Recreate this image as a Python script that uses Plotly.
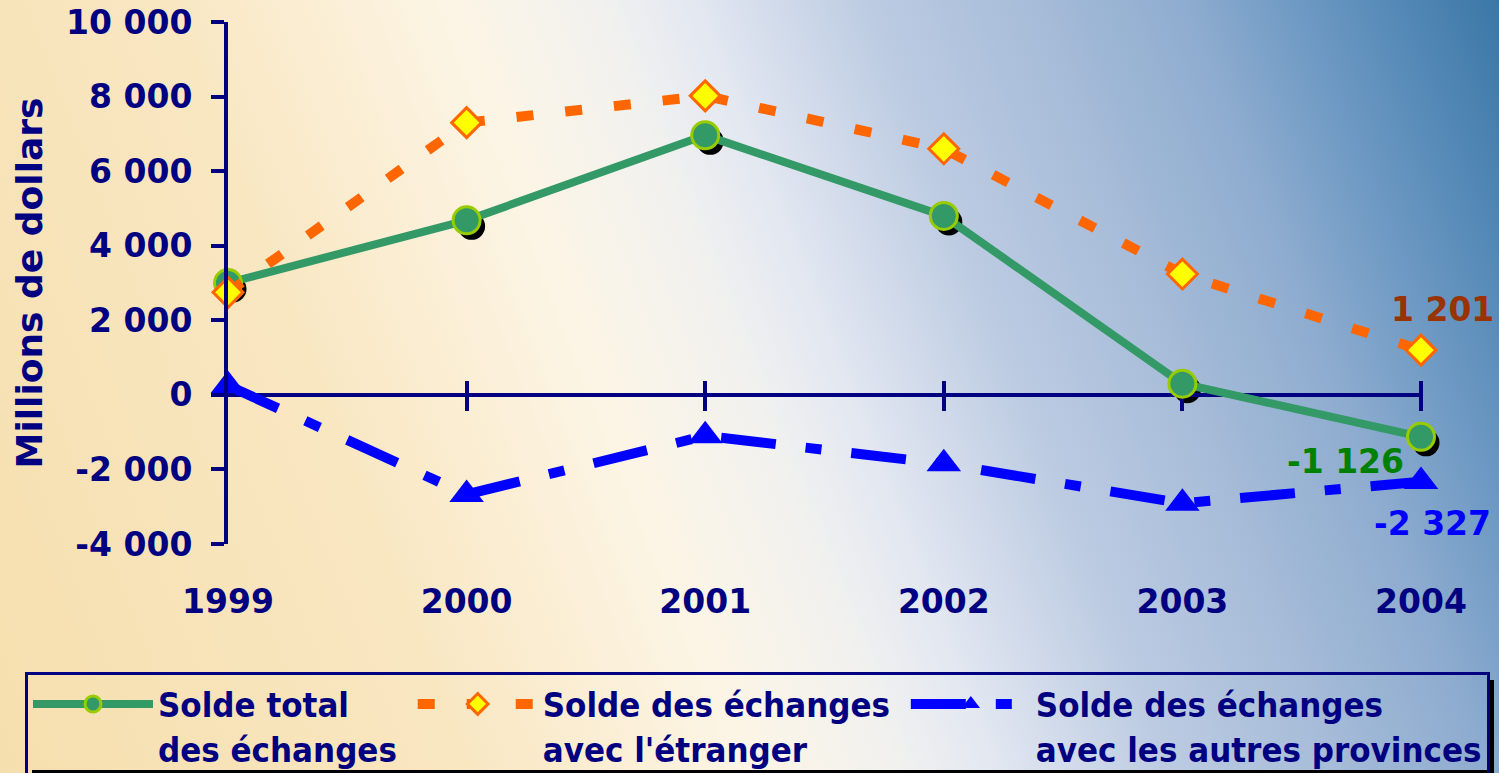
import base64

import plotly.graph_objects as go

W, H = 1499, 773

years = [1999, 2000, 2001, 2002, 2003, 2004]
solde_total = [3000, 4680, 6960, 4800, 300, -1126]
solde_etranger = [2750, 7300, 8020, 6600, 3240, 1201]
solde_provinces = [250, -2670, -1100, -1850, -2910, -2327]

y_ticks = [-4000, -2000, 0, 2000, 4000, 6000, 8000, 10000]
y_tick_labels = ["-4 000", "-2 000", "0", "2 000", "4 000", "6 000", "8 000", "10 000"]
x_tick_labels = ["1999", "2000", "2001", "2002", "2003", "2004"]

NBSP = "\u00a0"
names = [
    "Solde total<br>des échanges" + NBSP,
    "Solde des échanges" + NBSP + "<br>avec l'étranger",
    "Solde des échanges<br>avec les autres provinces",
]

NAVY = "#000080"
GREEN = "#339966"
ORANGE = "#ff6600"
BLUE = "#0000ff"
FONT = "DejaVu Sans"

# plot area in pixels
PL, PR, PT, PB = 228, 1421, 22, 544
x_dom = [PL / W, PR / W]
y_dom = [1 - PB / H, 1 - PT / H]
y_rng = [-4000, 10000]
zero_pos = y_dom[0] + (0 - y_rng[0]) / (y_rng[1] - y_rng[0]) * (y_dom[1] - y_dom[0])

# background gradient as an svg image
stops = [
    (0.00, "#f6dfae"), (0.26, "#f9e7c2"), (0.42, "#fcf5e6"), (0.50, "#f1f1ef"),
    (0.555, "#e2e7f1"), (0.65, "#bccbe2"), (0.735, "#a8bdd9"), (0.825, "#8eaccf"),
    (0.895, "#6a97c2"), (1.00, "#3a77a7"),
]
stop_xml = "".join(f'<stop offset="{o}" stop-color="{c}"/>' for o, c in stops)
svg = (
    f'<svg xmlns="http://www.w3.org/2000/svg" width="{W}" height="{H}" viewBox="0 0 {W} {H}" preserveAspectRatio="none">'
    f'<defs><linearGradient id="g" gradientUnits="userSpaceOnUse" x1="-261" y1="102" x2="1302" y2="-507">{stop_xml}</linearGradient></defs>'
    f'<rect width="{W}" height="{H}" fill="url(#g)"/></svg>'
)
bg_src = "data:image/svg+xml;base64," + base64.b64encode(svg.encode()).decode()

fig = go.Figure()

# shadow of the green markers (on a slightly shifted subplot)
fig.add_trace(go.Scatter(
    x=years, y=solde_total, mode="markers", xaxis="x", yaxis="y",
    marker=dict(size=27, color="black"), showlegend=False, hoverinfo="skip", cliponaxis=False,
))

fig.add_trace(go.Scatter(
    x=years, y=solde_total, name=names[0], mode="lines+markers", xaxis="x2", yaxis="y2",
    line=dict(color=GREEN, width=8),
    marker=dict(size=27, color=GREEN, line=dict(color="#99cc00", width=3)),
    cliponaxis=False,
))
fig.add_trace(go.Scatter(
    x=years, y=solde_etranger, name=names[1], mode="lines+markers", xaxis="x2", yaxis="y2",
    line=dict(color=ORANGE, width=10, dash="17px,32px"),
    marker=dict(symbol="diamond", size=23, color="#ffff00", line=dict(color=ORANGE, width=3)),
    cliponaxis=False,
))
fig.add_trace(go.Scatter(
    x=years, y=solde_provinces, name=names[2], mode="lines+markers", xaxis="x2", yaxis="y2",
    line=dict(color=BLUE, width=10, dash="55px,30px,16px,30px"),
    marker=dict(symbol="triangle-up", size=30, color=BLUE),
    cliponaxis=False,
))
# carrier for the tick marks crossing the zero line
fig.add_trace(go.Scatter(
    x=years, y=solde_total, mode="lines", xaxis="x3", yaxis="y2",
    line=dict(width=0), opacity=0, showlegend=False, hoverinfo="skip",
))

labels = [
    (solde_etranger[-1], "1 201", "#993300", 21, 41),
    (solde_total[-1], "-1 126", "#008000", -76, -25),
    (solde_provinces[-1], "-2 327", BLUE, 11, -42),
]
for val, txt, col, dx, dy in labels:
    fig.add_annotation(
        x=years[-1], y=val, xref="x2", yref="y2", text=txt, showarrow=False,
        xshift=dx, yshift=dy, font=dict(family=FONT, size=33, color=col, weight="bold"),
    )

# drop shadow of the legend box
for x0, y0, x1, y1 in [(1488, 680, 1494, 773), (32, 770, 1494, 773)]:
    fig.add_shape(type="rect", xref="paper", yref="paper", x0=x0 / W, x1=x1 / W,
                  y0=1 - y1 / H, y1=1 - y0 / H, fillcolor="black", line=dict(width=0),
                  layer="below")

tick_font = dict(family=FONT, size=33, color=NAVY, weight="bold")
hidden = dict(visible=False, fixedrange=True)

fig.update_layout(
    width=W, height=H,
    margin=dict(l=0, r=0, t=0, b=0, autoexpand=False),
    paper_bgcolor="rgba(0,0,0,0)",
    plot_bgcolor="rgba(0,0,0,0)",
    images=[dict(source=bg_src, xref="paper", yref="paper", x=0, y=1, sizex=1, sizey=1,
                 sizing="stretch", layer="below")],
    xaxis=dict(domain=[x_dom[0] + 5 / W, x_dom[1] + 5 / W], range=[1999, 2004], anchor="y", **hidden),
    yaxis=dict(domain=[y_dom[0] - 6 / H, y_dom[1] - 6 / H], range=y_rng, anchor="x", **hidden),
    xaxis2=dict(
        domain=x_dom, range=[1999, 2004], anchor="y2",
        tickvals=years, ticktext=x_tick_labels, tickfont=tick_font,
        showline=False, showgrid=False, zeroline=False,
        ticks="outside", ticklen=28, tickcolor="rgba(0,0,0,0)",
    ),
    yaxis2=dict(
        domain=y_dom, range=y_rng, anchor="x2",
        tickvals=y_ticks, ticktext=y_tick_labels, tickfont=tick_font,
        showline=True, linecolor=NAVY, linewidth=4,
        ticks="outside", ticklen=13, tickwidth=4, tickcolor=NAVY, ticklabelstandoff=12,
        showgrid=False, zeroline=True, zerolinecolor=NAVY, zerolinewidth=4,
        title=dict(text="Millions de dollars", standoff=14,
                   font=dict(family=FONT, size=36, color=NAVY, weight="bold")),
    ),
    xaxis3=dict(
        overlaying="x2", anchor="free", position=zero_pos + 15 / H, range=[1999, 2004],
        tickvals=years[1:], showticklabels=False, ticks="outside", ticklen=30,
        tickwidth=4, tickcolor=NAVY, showline=False, showgrid=False, zeroline=False,
        layer="below traces",
    ),
    showlegend=True,
    legend=dict(
        orientation="h", x=25 / W, y=1 - 672 / H, xanchor="left", yanchor="top",
        bgcolor="rgba(0,0,0,0)", bordercolor=NAVY, borderwidth=3,
        font=dict(family="DejaVu Sans Condensed", size=34.5, color=NAVY, weight="bold"),
        itemwidth=120, valign="top", tracegroupgap=0,
    ),
    hovermode=False,
)

fig.write_html(
    "out.html",
    config={"displayModeBar": False},
    post_script="document.body.style.margin='0';document.body.style.overflow='hidden';",
)
